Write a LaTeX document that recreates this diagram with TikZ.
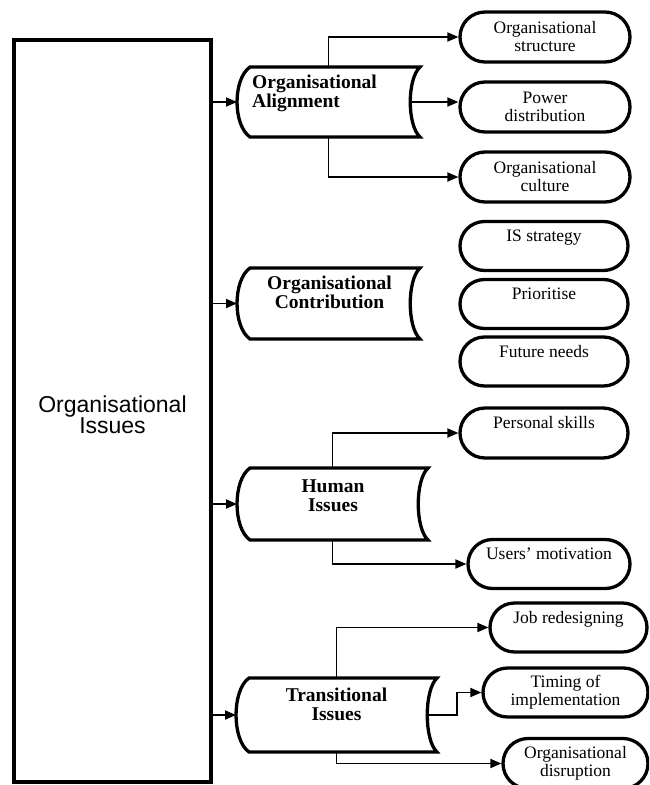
\documentclass[tikz,border=0pt]{standalone}
\usepackage{fontspec}
\setmainfont{Liberation Serif}
\newfontfamily\arialfont{Liberation Sans}
\usetikzlibrary{shapes.misc,arrows.meta}

% outline of a "stored data" box over an invisible rectangle node:
% concave on the right, bulging out on the left
\newcommand\storeoutline[1]{%
  \draw[storeline] ([xshift=13pt]#1.north west) -- (#1.north east)
    .. controls +(-13pt,-12pt) and +(-13pt,12pt) .. (#1.south east)
    -- ([xshift=13pt]#1.south west)
    .. controls +(-17.3pt,12pt) and +(-17.3pt,-12pt) .. cycle;}

\begin{document}
\begin{tikzpicture}[x=1pt,y=-1pt,
  bigbox/.style={draw, line width=3.3pt, rectangle, inner sep=0pt, outer sep=0pt},
  storearea/.style={rectangle, inner sep=0pt, outer sep=0pt},
  storeline/.style={line width=3.3pt},
  boldlabel/.style={font=\fontsize{19.5}{19}\selectfont\bfseries, align=center, inner sep=0pt},
  leafbase/.style={rounded rectangle, draw, line width=3.3pt, minimum width=168pt,
    minimum height=49pt, inner sep=0pt, outer sep=1.6pt, font=\fontsize{17.5}{18}\selectfont},
  leaf/.style={leafbase, align=center},
  leafone/.style={leafbase, text height=12pt, text depth=21pt},
  conn/.style={line width=1.8pt, -{Triangle[length=11pt,width=9pt]}},
]
\useasboundingbox (0,0) rectangle (649,785);
\clip (0,0) rectangle (649,785);

% main block
\node[bigbox, minimum width=197pt, minimum height=742pt] (oi) at (112.5,411) {};
\node[font=\arialfont\fontsize{23}{21}\selectfont, align=center, anchor=base, inner sep=0pt]
  (oi-t) at (112.5,433) {Organisational\\Issues};

% second-level blocks
\node[storearea, minimum width=183pt, minimum height=70pt] (oa) at (328.5,102) {};
\node[storearea, minimum width=183pt, minimum height=71pt] (ocn) at (328.5,303.5) {};
\node[storearea, minimum width=191pt, minimum height=72pt] (hi) at (332.5,504) {};
\node[storearea, minimum width=201pt, minimum height=74pt] (ti) at (336.5,715) {};
\storeoutline{oa}
\storeoutline{ocn}
\storeoutline{hi}
\storeoutline{ti}

% the base anchor of a two-line label sits on its last line
\node[boldlabel, align=left, anchor=base west] (oa-t) at (252,107) {Organisational\\Alignment};
\node[boldlabel, anchor=base] (ocn-t) at (329.5,308.5) {Organisational\\Contribution};
\node[boldlabel, anchor=base] (hi-t) at (333,511) {Human\\Issues};
\node[boldlabel, anchor=base] (ti-t) at (336.5,720) {Transitional\\Issues};

% third-level items
\node[leaf, minimum width=170pt, minimum height=50pt] (os) at (545,37) {Organisational\\structure};
\node[leaf, minimum width=170pt, minimum height=50pt] (pd) at (545,107) {Power\\distribution};
\node[leaf, minimum width=170pt, minimum height=50pt] (occ) at (545,177) {Organisational\\culture};

\node[leafone] (iss) at (544,246) {IS strategy};
\node[leafone] (pri) at (544,304) {Prioritise};
\node[leafone] (fn) at (544,361.5) {Future needs};

\node[leafone, minimum height=50pt] (ps) at (544,433) {Personal skills};
\node[leafone, minimum width=162pt] (um) at (549,564) {Users’ motivation};

\node[leafone, minimum width=157pt] (jr) at (568.5,627.5) {Job redesigning};
\node[leaf, minimum width=165pt] (tm) at (565.5,692.5) {Timing of\\implementation};
\node[leaf, minimum width=145pt, minimum height=50pt] (od) at (575.5,763.5) {Organisational\\disruption};

% connectors
\draw[conn] (oi.east |- oa.west) -- (oa.west);
\draw[conn] (oi.east |- ocn.west) -- (ocn.west);
\draw[conn] (oi.east |- hi.west) -- (hi.west);
\draw[conn] (oi.east |- ti.west) -- (ti.west);

\draw[conn] (oa.north) |- (os.west);
\draw[conn] ([xshift=-10pt]oa.east) -- (oa.east -| pd.west);
\draw[conn] (oa.south) |- (occ.west);

\draw[conn] (hi.north) |- (ps.west);
\draw[conn] (hi.south) |- (um.west);

\draw[conn] (ti.north) |- (jr.west);
\path (ti.east) ++(20,0) coordinate (tmbend);
\draw[conn] ([xshift=-10pt]ti.east) -- (tmbend) |- (tm.west);
\draw[conn] (ti.south) |- (od.west);
\end{tikzpicture}
\end{document}
